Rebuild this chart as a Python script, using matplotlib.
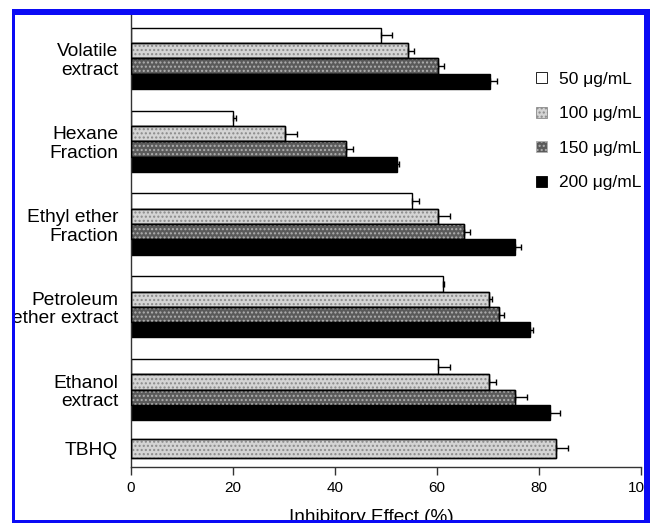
import numpy as np
import matplotlib
matplotlib.use("Agg")
import matplotlib.pyplot as plt
from matplotlib.patches import Rectangle, Patch

plt.rcParams["font.family"] = ["Liberation Sans", "DejaVu Sans"]
plt.rcParams["hatch.linewidth"] = 1.0

# ---------------------------------------------------------------------------
# Data
# ---------------------------------------------------------------------------
categories = ["Volatile\nextract", "Hexane\nFraction", "Ethyl ether\nFraction",
              "Petroleum\nether extract", "Ethanol\nextract"]
series_labels = ["50 μg/mL", "100 μg/mL", "150 μg/mL", "200 μg/mL"]

vals_50 = [49.0, 20.1, 55.2, 61.2, 60.2]
vals_100 = [54.3, 30.3, 60.2, 70.2, 70.2]
vals_150 = [60.2, 42.3, 65.3, 72.2, 75.3]
vals_200 = [70.4, 52.3, 75.3, 78.3, 82.2]

err_50 = [2.2, 0.5, 1.3, 0.3, 2.4]
err_100 = [1.2, 2.4, 2.4, 0.6, 1.4]
err_150 = [1.2, 1.2, 1.2, 1.0, 2.4]
err_200 = [1.4, 0.4, 1.2, 0.5, 2.0]

tbhq_label = "TBHQ"
tbhq_value = 83.4
tbhq_err = 2.4

x_ticks = [0, 20, 40, 60, 80, 100]
x_label = "Inhibitory Effect (%)"

# ---------------------------------------------------------------------------
# Styles
# ---------------------------------------------------------------------------
# (facecolor, hatch, hatch colour)
styles = [
    ("white", None, None),
    ("#d4d4d4", "....", "#8a8a8a"),
    ("#5a5a5a", "....", "#b0b0b0"),
    ("black", None, None),
]

W, H = 650, 523
fig = plt.figure(figsize=(W / 100, H / 100), dpi=100)
fig.patch.set_facecolor("white")


def px(x0, y0, x1, y1):
    # pixel box (top-left origin) -> figure fraction [l, b, w, h]
    return [x0 / W, 1 - y1 / H, (x1 - x0) / W, (y1 - y0) / H]


ax = fig.add_axes(px(130.7, 12, 640.7, 466.7))

group_pos = np.arange(len(categories), dtype=float)
tbhq_pos = 4.71
bar_h = 0.185
tbhq_h = 0.23

all_vals = [vals_50, vals_100, vals_150, vals_200]
all_errs = [err_50, err_100, err_150, err_200]


def draw_bars(y, w, h, style):
    face, hatch, hcol = style
    ax.barh(y, w, height=h, color=face, edgecolor="black", linewidth=1.0, zorder=2)
    if hatch:
        ax.barh(y, w, height=h, color="none", edgecolor=hcol, hatch=hatch,
                linewidth=0, zorder=2.5)
        ax.barh(y, w, height=h, color="none", edgecolor="black",
                linewidth=1.0, zorder=3)


for i, (vals, errs, st) in enumerate(zip(all_vals, all_errs, styles)):
    y = group_pos + (i - 1.5) * bar_h
    draw_bars(y, vals, bar_h, st)
    ax.errorbar(vals, y, xerr=[np.zeros(len(errs)), errs], fmt="none",
                ecolor="black", elinewidth=1.0, capsize=2.5, capthick=1.0, zorder=4)

draw_bars([tbhq_pos], [tbhq_value], tbhq_h, styles[1])
ax.errorbar([tbhq_value], [tbhq_pos], xerr=[[0], [tbhq_err]], fmt="none",
            ecolor="black", elinewidth=1.0, capsize=2.5, capthick=1.0, zorder=4)

ax.set_xlim(0, 100)
ax.set_ylim(4.93, -0.56)
ax.set_xticks(x_ticks)
ax.set_xticklabels([str(t) for t in x_ticks], fontsize=11)
ax.set_yticks(list(group_pos) + [tbhq_pos])
ax.set_yticklabels(categories + [tbhq_label], fontsize=13.8, ha="right",
                   linespacing=1.12)
ax.tick_params(axis="y", length=0, pad=9)
ax.tick_params(axis="x", direction="out", length=6, width=1.0, pad=4, color="#333333")

for side in ["top", "right"]:
    ax.spines[side].set_visible(False)
for side in ["left", "bottom"]:
    ax.spines[side].set_linewidth(1.0)
    ax.spines[side].set_color("#333333")

# x label, partly cut off by the border like the reference
fig.text(371 / W, 1 - 509 / H, x_label, ha="center", va="top", fontsize=13.7)

# legend
handles = []
for lab, (face, hatch, hcol) in zip(series_labels, styles):
    handles.append(Patch(facecolor=face, edgecolor=hcol if hatch else "black",
                         hatch=hatch, linewidth=0.6, label=lab))
fig.legend(handles=handles, loc="upper left",
           bbox_to_anchor=(536 / W, 1 - 72 / H), frameon=False, fontsize=12.5,
           handlelength=0.65, handleheight=0.6, handletextpad=0.7,
           labelspacing=1.12, borderpad=0, borderaxespad=0)

# blue frame drawn over everything
blue = "#0b0bf5"
for (x0, y0, x1, y1) in [(11.5, 9.5, 650, 15), (11.5, 9.5, 15.5, 523),
                         (644, 9.5, 650, 523), (11.5, 520, 650, 523)]:
    l, b, w, h = px(x0, y0, x1, y1)
    fig.add_artist(Rectangle((l, b), w, h, transform=fig.transFigure,
                             facecolor=blue, edgecolor="none", zorder=100))

fig.savefig("out.png", dpi=100)
